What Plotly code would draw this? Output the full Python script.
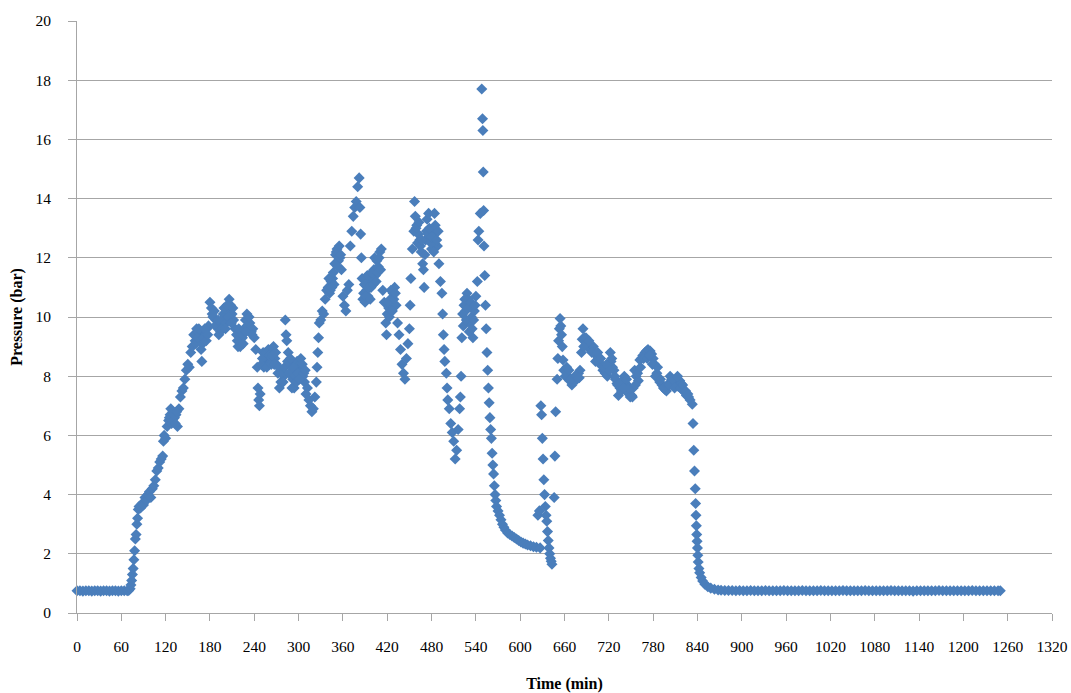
import plotly.graph_objects as go

# ---- data ----
x_ticks = [0, 60, 120, 180, 240, 300, 360, 420, 480, 540, 600, 660, 720,
           780, 840, 900, 960, 1020, 1080, 1140, 1200, 1260, 1320]
y_ticks = [0, 2, 4, 6, 8, 10, 12, 14, 16, 18, 20]

# idle period before start-up
t_idle_start = [0, 4, 8, 12, 16, 20, 24, 28, 32, 36, 40, 44, 48, 52, 56, 60, 64, 68]
p_idle_start = [0.75, 0.75, 0.74, 0.75, 0.75, 0.74, 0.75, 0.75, 0.74, 0.75,
                0.75, 0.74, 0.75, 0.75, 0.74, 0.75, 0.75, 0.75]

# operating period
t_run = [70, 72, 73, 74, 75, 76, 77, 78, 79, 80, 81, 82, 83, 84, 86, 88, 90, 92, 94, 96,
         98, 100, 102, 104, 106, 108, 110, 112, 114, 116, 117, 118, 120, 122, 124, 126,
         128, 130, 132, 134, 136, 138, 140, 142, 144, 146, 148, 150, 152, 154, 156, 158,
         160, 162, 164, 166, 168, 169, 170, 172, 174, 176, 178, 180, 182, 184, 186, 188,
         190, 192, 194, 196, 198, 200, 202, 204, 206, 208, 210, 212, 214, 216, 218, 220,
         222, 224, 226, 228, 230, 232, 234, 236, 238, 240, 242, 244, 245, 246, 247, 248,
         250, 252, 254, 256, 258, 260, 262, 264, 266, 268, 270, 272, 274, 276, 278, 280,
         282, 283, 284, 286, 288, 290, 292, 294, 296, 298, 300, 302, 304, 306, 308, 310,
         312, 314, 316, 318, 320, 322, 324, 325, 326, 327, 328, 330, 332, 334, 336, 338,
         340, 342, 344, 346, 348, 350, 352, 354, 356, 358, 360, 362, 364, 366, 368, 370,
         372, 374, 376, 378, 380, 382, 383, 384, 385, 386, 388, 390, 392, 394, 396, 398,
         400, 402, 404, 406, 408, 410, 412, 414, 416, 418, 419, 420, 422, 424, 426, 428,
         430, 432, 434, 436, 438, 440, 442, 444, 446, 448, 450, 451, 452, 454, 456, 457,
         458, 460, 462, 464, 466, 468, 470, 472, 474, 476, 478, 480, 482, 484, 486, 488,
         490, 492, 494, 495, 496, 497, 498, 500, 501, 502, 504, 506, 508, 510, 512, 514,
         516, 518, 519, 520, 521, 522, 524, 526, 528, 530, 532, 534, 536, 538, 540, 542,
         543, 544, 546, 548, 549, 549.5, 550, 550.5, 551, 552, 553, 554, 555, 556, 557,
         558, 559, 560, 561, 562, 563, 564, 565, 566, 567, 568, 570, 572, 574, 576, 578,
         580, 583, 586, 589, 592, 595, 598, 601, 604, 607, 610, 614, 618, 622, 624, 626,
         627, 628, 629, 630, 631, 632, 633, 634, 635, 636, 637, 638, 639, 640, 641, 642,
         643, 646, 647, 648, 650, 651, 652, 653, 654, 655, 656, 657, 658, 659, 661, 663,
         665, 667, 670, 672, 674, 677, 679, 681, 683, 684, 685, 687, 690, 692, 694, 696,
         699, 701, 703, 706, 708, 710, 712, 715, 718, 720, 722, 723, 725, 727, 729, 731,
         733, 735, 737, 739, 741, 743, 745, 747, 749, 751, 753, 755, 757, 760, 762, 764,
         766, 769, 771, 773, 776, 778, 780, 782, 785, 787, 789, 792, 794, 796, 798, 800,
         803, 805, 807, 810, 812, 814, 816, 818, 821, 823, 825, 828, 830, 833, 834, 835,
         836, 837, 837.5, 838, 838.5, 839, 839.5, 840, 840.5, 841, 842, 843, 845, 847,
         850, 854, 858, 863, 868]
p_run = [0.76, 0.82, 0.95, 1.1, 1.3, 1.5, 1.8, 2.1, 2.5, 2.65, 3.0, 3.2, 3.5, 3.6, 3.55, 3.7,
         3.65, 3.9, 3.8, 4.0, 4.1, 3.9, 4.2, 4.3, 4.5, 4.8, 4.9, 5.1, 5.2, 5.3, 5.8, 6.0,
         5.9, 6.3, 6.5, 6.7, 6.4, 6.8, 6.6, 6.7, 6.3, 6.9, 7.3, 7.5, 7.6, 7.9, 8.2, 8.4,
         8.3, 8.8, 9.0, 9.4, 9.2, 9.6, 9.5, 9.3, 8.9, 8.5, 9.1, 9.5, 9.4, 9.6, 9.7, 10.5,
         10.3, 10.0, 10.2, 9.9, 9.7, 9.4, 9.5, 9.8, 10.1, 10.0, 9.8, 10.2, 10.6, 10.4,
         10.1, 9.9, 9.6, 9.4, 9.0, 9.2, 9.4, 9.3, 9.6, 9.9, 10.1, 9.7, 9.8, 9.5, 9.6, 9.3,
         8.9, 8.3, 7.6, 7.2, 7.0, 7.4, 8.4, 8.8, 8.6, 8.5, 8.7, 8.4, 8.6, 8.9, 9.0, 8.6,
         8.4, 8.1, 7.6, 7.8, 8.2, 8.0, 9.9, 9.4, 9.2, 8.8, 8.4, 8.1, 7.9, 7.6, 8.2, 8.5,
         8.3, 8.4, 8.2, 8.0, 7.8, 7.4, 7.6, 7.2, 7.0, 6.8, 6.9, 7.3, 7.8, 8.3, 8.8, 9.3,
         9.8, 9.9, 10.2, 10.1, 10.6, 10.9, 11.0, 10.8, 11.2, 11.3, 11.1, 12.1, 12.3, 11.9,
         12.0, 11.6, 10.7, 10.4, 10.2, 10.9, 11.1, 12.4, 12.9, 13.4, 13.7, 13.9, 14.4,
         14.7, 13.7, 12.8, 12.0, 11.3, 10.8, 10.5, 10.9, 10.7, 11.2, 11.0, 11.3, 11.6,
         11.4, 11.9, 11.7, 12.2, 12.3, 10.9, 10.5, 9.8, 9.4, 10.1, 10.3, 10.6, 10.4, 10.8,
         11.0, 10.4, 9.8, 9.4, 8.9, 8.4, 8.1, 7.9, 8.6, 9.1, 9.6, 10.4, 11.3, 12.3, 12.9,
         13.9, 13.4, 13.1, 12.8, 12.6, 12.2, 11.8, 11.0, 12.6, 13.3, 13.5, 12.6, 12.3,
         12.8, 13.5, 12.9, 12.4, 11.8, 11.2, 10.8, 10.1, 9.4, 8.9, 8.5, 8.1, 7.6, 7.2, 6.9,
         6.4, 6.1, 5.8, 5.2, 5.5, 6.2, 6.9, 7.3, 8.0, 9.3, 10.1, 10.4, 10.2, 10.8, 10.6,
         9.8, 10.0, 9.3, 10.2, 10.7, 11.2, 12.6, 12.9, 13.5, 17.7, 16.7, 16.3, 14.9, 13.6,
         12.4, 11.4, 10.4, 9.6, 8.8, 8.2, 7.6, 7.1, 6.6, 6.2, 5.9, 5.4, 5.0, 4.7, 4.3, 4.0,
         3.8, 3.6, 3.45, 3.3, 3.15, 3.0, 2.9, 2.8, 2.7, 2.65, 2.6, 2.55, 2.5, 2.45, 2.4,
         2.36, 2.33, 2.3, 2.27, 2.24, 2.22, 3.3, 3.45, 2.2, 7.0, 6.7, 5.9, 5.2, 4.5, 4.0,
         3.6, 3.3, 3.1, 2.75, 2.45, 2.2, 2.0, 1.85, 1.75, 1.65, 3.9, 5.3, 6.8, 7.9, 8.6,
         9.2, 9.6, 9.95, 9.7, 9.4, 9.0, 8.55, 8.2, 8.0, 8.3, 8.0, 7.85, 7.7, 7.8, 8.0, 7.9,
         8.1, 8.2, 8.8, 9.25, 9.6, 9.3, 9.1, 8.95, 9.0, 8.9, 9.0, 8.8, 8.7, 8.6, 8.45,
         8.35, 8.2, 8.1, 8.0, 8.2, 8.8, 8.5, 8.3, 8.2, 7.9, 7.75, 7.35, 7.6, 7.5, 7.8, 8.0,
         7.75, 7.6, 7.4, 7.3, 7.35, 7.6, 8.2, 8.0, 7.85, 8.55, 8.6, 8.7, 8.8, 8.85, 8.9,
         8.85, 8.75, 8.6, 8.4, 8.1, 7.95, 7.8, 7.7, 7.6, 7.55, 7.5, 7.7, 8.0, 7.9, 7.75,
         7.8, 7.7, 7.65, 7.85, 7.75, 7.5, 7.45, 7.35, 7.3, 7.2, 7.05, 6.4, 5.5, 4.8, 4.2,
         3.7, 3.3, 2.95, 2.65, 2.42, 2.2, 1.95, 1.72, 1.5, 1.36, 1.2, 1.08, 0.97, 0.89,
         0.84, 0.8, 0.78]

# further readings inside the dense clusters of the operating period
t_run_dense = [125, 127, 129, 131, 133, 135, 161, 163, 165, 171, 173, 175, 177, 183, 187,
               191, 195, 199, 201, 203, 205, 209, 211, 217, 219, 221, 225, 229, 233, 237,
               251, 253, 255, 257, 259, 261, 263, 265, 267, 269, 273, 277, 279, 281, 285,
               287, 289, 291, 293, 295, 297, 299, 301, 303, 305, 307, 309, 341, 343, 345,
               347, 349, 351, 353, 355, 357, 387, 389, 391, 393, 395, 397, 399, 401, 403,
               405, 407, 409, 411, 421, 423, 425, 427, 429, 431, 459, 461, 463, 465, 467,
               469, 471, 473, 475, 477, 479, 481, 483, 485, 487, 489, 523, 525, 527, 529,
               531, 533, 535, 537, 539, 662, 666, 669, 676, 680, 686, 689, 693, 697, 702,
               705, 709, 713, 717, 721, 724, 728, 732, 736, 740, 744, 748, 752, 756, 759,
               763, 767, 772, 775, 779, 783, 786, 790, 795, 799, 802, 806, 809, 813, 817,
               820, 824, 827]
p_run_dense = [6.6, 6.9, 6.5, 6.7, 6.4, 6.8, 9.1, 9.3, 9.6, 9.3, 9.6, 9.2, 9.4, 10.1, 9.7,
               9.9, 9.6, 10.3, 9.6, 10.4, 10.0, 9.8, 10.3, 9.2, 9.6, 9.0, 9.1, 9.5, 10.0, 9.4,
               8.6, 8.3, 8.8, 8.3, 8.9, 8.7, 8.4, 8.7, 8.4, 8.8, 8.3, 8.1, 7.8, 8.3, 8.5,
               8.1, 8.6, 7.6, 8.3, 8.0, 7.8, 8.1, 7.9, 8.6, 8.4, 8.1, 8.2, 11.3, 10.9, 11.0,
               11.5, 11.8, 12.2, 11.7, 12.4, 12.1, 10.6, 11.1, 10.7, 11.4, 11.0, 10.6, 11.5,
               11.1, 12.0, 11.2, 11.5, 12.0, 11.6, 10.5, 10.0, 10.9, 10.2, 10.6, 10.8, 13.0,
               12.5, 13.2, 12.4, 12.6, 11.6, 12.1, 12.9, 12.8, 13.0, 12.5, 12.7, 12.2, 13.1,
               12.6, 12.9, 9.7, 10.6, 9.9, 10.3, 9.5, 10.5, 9.6, 9.9, 10.4, 8.0, 8.2, 7.9,
               8.0, 7.95, 9.0, 9.3, 9.2, 8.8, 8.5, 8.8, 8.6, 8.3, 8.4, 8.2, 8.6, 8.0, 7.7,
               7.8, 7.6, 7.9, 7.6, 7.3, 7.7, 8.1, 8.3, 8.6, 8.6, 8.7, 8.4, 8.0, 8.3, 7.9,
               7.6, 7.7, 7.7, 7.9, 7.6, 8.0, 7.6, 7.7, 7.5, 7.4]

# idle period after shut-down
t_idle_end = [872, 877, 882, 887, 892, 897, 902, 907, 912, 917, 922, 927, 932, 937, 942,
              947, 952, 957, 962, 967, 972, 977, 982, 987, 992, 997, 1002, 1007, 1012,
              1017, 1022, 1027, 1032, 1037, 1042, 1047, 1052, 1057, 1062, 1067, 1072,
              1077, 1082, 1087, 1092, 1097, 1102, 1107, 1112, 1117, 1122, 1127, 1132,
              1137, 1142, 1147, 1152, 1157, 1162, 1167, 1172, 1177, 1182, 1187, 1192,
              1197, 1202, 1207, 1212, 1217, 1222, 1227, 1232, 1237, 1242, 1247, 1250]
p_idle_end = [0.77, 0.76, 0.76, 0.76, 0.75, 0.76, 0.75, 0.75, 0.76, 0.75, 0.75, 0.75,
              0.76, 0.75, 0.75, 0.75, 0.75, 0.76, 0.75, 0.75, 0.75, 0.75, 0.76, 0.75,
              0.75, 0.75, 0.75, 0.76, 0.75, 0.75, 0.75, 0.75, 0.75, 0.76, 0.75, 0.75,
              0.75, 0.75, 0.75, 0.76, 0.75, 0.75, 0.75, 0.75, 0.75, 0.75, 0.76, 0.75,
              0.75, 0.75, 0.75, 0.75, 0.74, 0.75, 0.75, 0.75, 0.75, 0.75, 0.75, 0.76,
              0.75, 0.75, 0.75, 0.75, 0.75, 0.75, 0.75, 0.75, 0.76, 0.75, 0.75, 0.75,
              0.75, 0.75, 0.75, 0.75, 0.75]

time_min = t_idle_start + t_run + t_run_dense + t_idle_end
pressure_bar = p_idle_start + p_run + p_run_dense + p_idle_end

FONT = "Liberation Serif, Times New Roman, serif"
GRID = "#A6A6A6"

fig = go.Figure()
fig.add_trace(go.Scatter(
    x=time_min, y=pressure_bar, mode="markers",
    marker=dict(symbol="diamond", size=8.5, color="#4A7EBB", line=dict(width=0)),
    cliponaxis=False, showlegend=False,
))

fig.update_layout(
    width=1071, height=693,
    margin=dict(l=77, r=19, t=21, b=80),
    paper_bgcolor="white", plot_bgcolor="white",
    font=dict(family=FONT, size=15.5, color="black"),
    showlegend=False,
)
fig.update_xaxes(
    range=[0, 1320], tickmode="array", tickvals=x_ticks,
    ticktext=[str(v) for v in x_ticks],
    showgrid=False, zeroline=False,
    showline=True, linecolor=GRID, linewidth=1,
    ticks="outside", ticklen=7, tickcolor=GRID, tickwidth=1,
    ticklabelstandoff=12, ticklabeloverflow="allow",
    title=dict(text="<b>Time (min)</b>", font=dict(family=FONT, size=16), standoff=32),
    automargin=False,
)
fig.update_yaxes(
    range=[0, 20], tickmode="array", tickvals=y_ticks,
    ticktext=[str(v) for v in y_ticks],
    showgrid=True, gridcolor=GRID, gridwidth=1, zeroline=False,
    showline=True, linecolor=GRID, linewidth=1,
    ticks="outside", ticklen=8, tickcolor=GRID, tickwidth=1,
    ticklabelstandoff=14, ticklabeloverflow="allow",
    title=dict(text="<b>Pressure (bar)</b>", font=dict(family=FONT, size=16), standoff=8),
    automargin=False,
)

# remove the default page margin so the figure fills the window exactly
fig.write_html(
    "out.html",
    config={"displayModeBar": False},
    post_script="document.body.style.margin='0';document.body.style.overflow='hidden';",
)
